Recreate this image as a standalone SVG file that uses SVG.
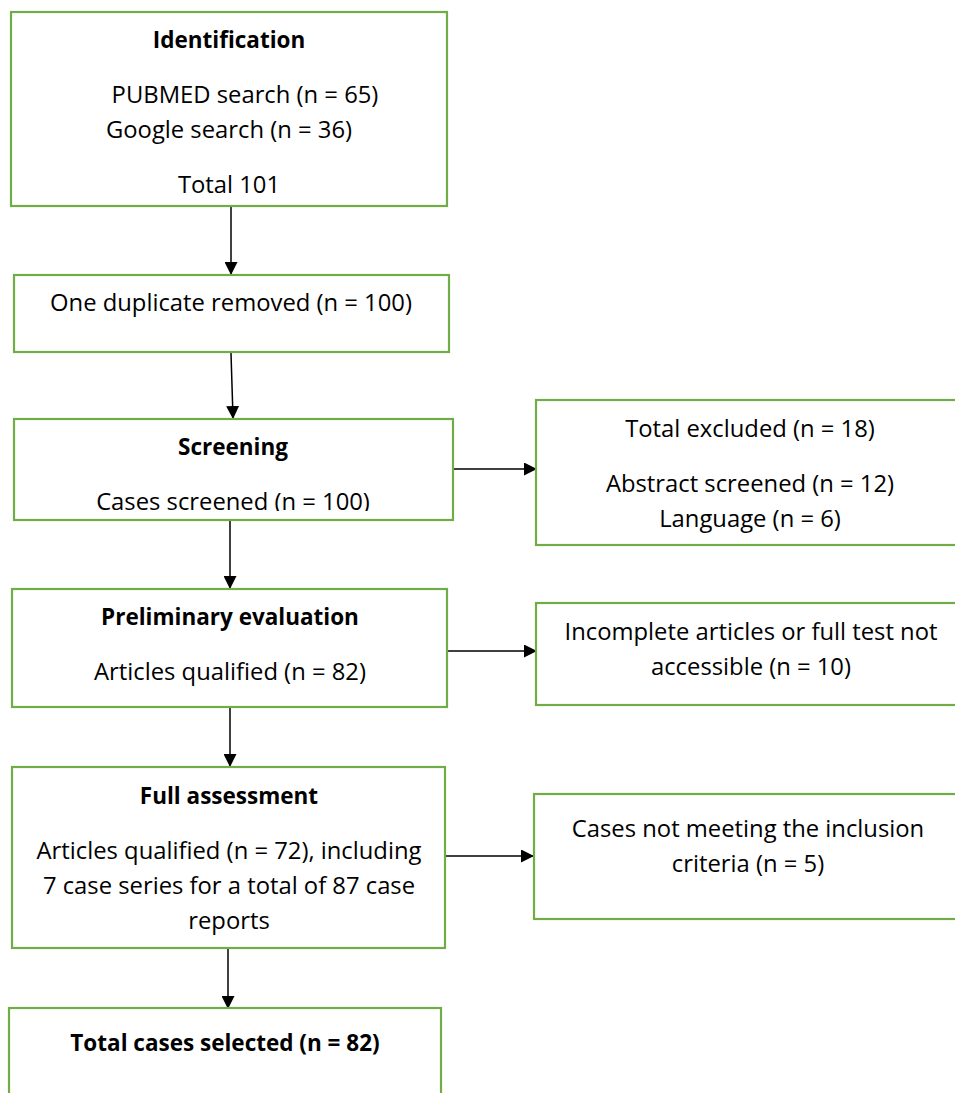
<svg xmlns="http://www.w3.org/2000/svg" width="955" height="1093" viewBox="0 0 955 1093">
<defs>
<marker id="ah" markerWidth="13" markerHeight="13" refX="12" refY="6.5" orient="auto" markerUnits="userSpaceOnUse">
<path d="M0,0 L13,6.5 L0,13 Z" fill="#000"/>
</marker>
<clipPath id="scrClip"><rect x="14" y="419" width="439" height="92"/></clipPath>
<style>
.box{fill:#fff;stroke:#70AD47;stroke-width:2.2}
.t{font-family:"Open Sans","Liberation Sans",sans-serif;font-size:23.8px;fill:#000;text-anchor:middle}
.b{font-weight:bold;font-size:22.5px}
.c{stroke:#000;stroke-width:1.5;fill:none;marker-end:url(#ah)}
</style>
</defs>
<rect width="955" height="1093" fill="#fff"/>
<g id="connectors">
<line class="c" x1="231" y1="207" x2="231" y2="274"/>
<line class="c" x1="231" y1="353" x2="233" y2="418"/>
<line class="c" x1="453" y1="469" x2="536" y2="469"/>
<line class="c" x1="230" y1="521" x2="230" y2="588"/>
<line class="c" x1="447" y1="651" x2="536" y2="651"/>
<line class="c" x1="230" y1="708" x2="230" y2="766"/>
<line class="c" x1="445" y1="856" x2="533" y2="856"/>
<line class="c" x1="228" y1="949" x2="228" y2="1008"/>
</g>
<g id="identification">
<rect class="box" x="11" y="12" width="436" height="194"/>
<text class="t b" x="229" y="48">Identification</text>
<text class="t" x="245" y="103">PUBMED search (n = 65)</text>
<text class="t" x="229" y="138">Google search (n = 36)</text>
<text class="t" x="229" y="193">Total 101</text>
</g>
<g id="duplicate">
<rect class="box" x="14" y="275" width="435" height="77"/>
<text class="t" x="231" y="311">One duplicate removed (n = 100)</text>
</g>
<g id="screening">
<rect class="box" x="14" y="419" width="439" height="101"/>
<text class="t b" x="233" y="455">Screening</text>
<text class="t" x="233" y="510" clip-path="url(#scrClip)">Cases screened (n = 100)</text>
</g>
<g id="excluded">
<rect class="box" x="536" y="400" width="430" height="145"/>
<text class="t" x="750" y="437">Total excluded (n = 18)</text>
<text class="t" x="750" y="492">Abstract screened (n = 12)</text>
<text class="t" x="750" y="527">Language (n = 6)</text>
</g>
<g id="preliminary">
<rect class="box" x="12" y="589" width="435" height="118"/>
<text class="t b" x="230" y="625">Preliminary evaluation</text>
<text class="t" x="230" y="680">Articles qualified (n = 82)</text>
</g>
<g id="incomplete">
<rect class="box" x="536" y="603" width="430" height="102"/>
<text class="t" x="751" y="640">Incomplete articles or full test not</text>
<text class="t" x="751" y="675">accessible (n = 10)</text>
</g>
<g id="full">
<rect class="box" x="12" y="767" width="433" height="181"/>
<text class="t b" x="229" y="804">Full assessment</text>
<text class="t" x="229" y="859">Articles qualified (n = 72), including</text>
<text class="t" x="229" y="894">7 case series for a total of 87 case</text>
<text class="t" x="229" y="929">reports</text>
</g>
<g id="notmeeting">
<rect class="box" x="534" y="794" width="432" height="125"/>
<text class="t" x="748" y="837">Cases not meeting the inclusion</text>
<text class="t" x="748" y="872">criteria (n = 5)</text>
</g>
<g id="selected">
<rect class="box" x="9" y="1008" width="432" height="100"/>
<text class="t b" x="225" y="1051">Total cases selected (n = 82)</text>
</g>
</svg>
